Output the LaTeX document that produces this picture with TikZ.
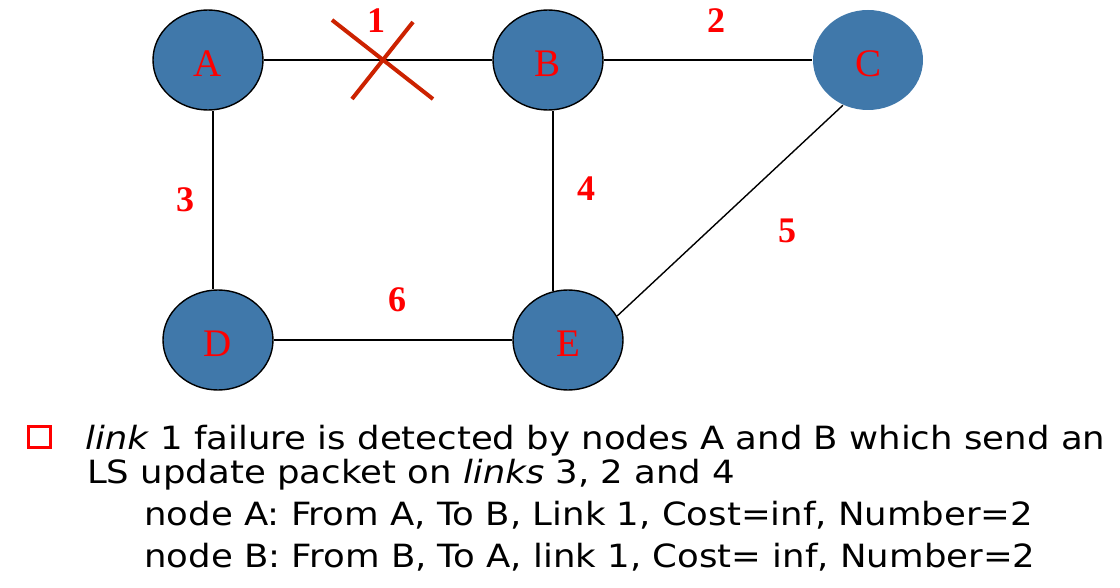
\documentclass[tikz,border=0pt]{standalone}
\usepackage{fontspec}
\setmainfont{Liberation Serif}
\newfontfamily\notefont[FakeStretch=1.11]{DejaVu Sans}
\usetikzlibrary{shapes.geometric}
\definecolor{routerblue}{RGB}{64,120,170}
\definecolor{crossred}{RGB}{204,34,0}
\tikzstyle{router} = [ellipse, draw=black, line width=1.4pt, fill=routerblue,
    minimum width=110pt, minimum height=100pt, inner sep=0pt, text height=33pt,
    text=red, font=\fontsize{39}{39}\selectfont]
\tikzstyle{cost} = [text=red, inner sep=0pt, font=\fontsize{36}{36}\selectfont\bfseries]
\tikzstyle{wire} = [draw=black, line width=1.4pt]
\tikzstyle{cross} = [draw=crossred, line width=4pt]
\tikzstyle{note} = [anchor=base west, inner sep=0pt, font=\fontsize{32}{32}\notefont]

\begin{document}
\begin{tikzpicture}[x=1pt, y=-1pt]
    \useasboundingbox (0,0) rectangle (1120,588);
    % routers
    \node[router] (A) at (208,60) {A};
    \node[router] (B) at (548,60) {B};
    \node[router, draw=none] (C) at (868,60) {C};
    \node[router] (D) at (218,340) {D};
    \node[router] (E) at (568,340) {E};
    % links
    \draw[wire] (A) -- (B);
    \draw[wire] (B) -- (C);
    \draw[wire] ([xshift=5pt]A.south) -- ([xshift=-5pt]D.north);
    \draw[wire] ([xshift=5pt]B.south) -- ([xshift=-15pt,yshift=-2pt]E.north);
    \draw[wire] (C.241) -- (E.26);
    \draw[wire] (D) -- (E);
    % failed link
    \coordinate (cut) at (383,60);
    \draw[cross] (cut) ++(-51,-40) -- ++(101,79);
    \draw[cross] (cut) ++(-31,39) -- ++(61,-77);
    % costs
    \node[cost] (c1) at (376,21) {1};
    \node[cost] (c2) at (716,21) {2};
    \node[cost] (c3) at (185,200) {3};
    \node[cost] (c4) at (586,189) {4};
    \node[cost] (c5) at (787,231) {5};
    \node[cost] (c6) at (397,300) {6};
    % text
    \node[draw=red, line width=3pt, minimum width=22pt, minimum height=21pt, inner sep=0pt] (bullet) at (39.5,437) {};
    \node[note] (line1) at (85,449) {\textit{link} 1 failure is detected by nodes A and B which send an};
    \node[note] (line2) at (87,483) {LS update packet on \textit{links} 3, 2 and 4};
    \node[note] (line3) at (144,525) {node A: From A, To B, Link 1, Cost=inf, Number=2};
    \node[note] (line4) at (144,567) {node B: From B, To A, link 1, Cost= inf, Number=2};
\end{tikzpicture}
\end{document}
